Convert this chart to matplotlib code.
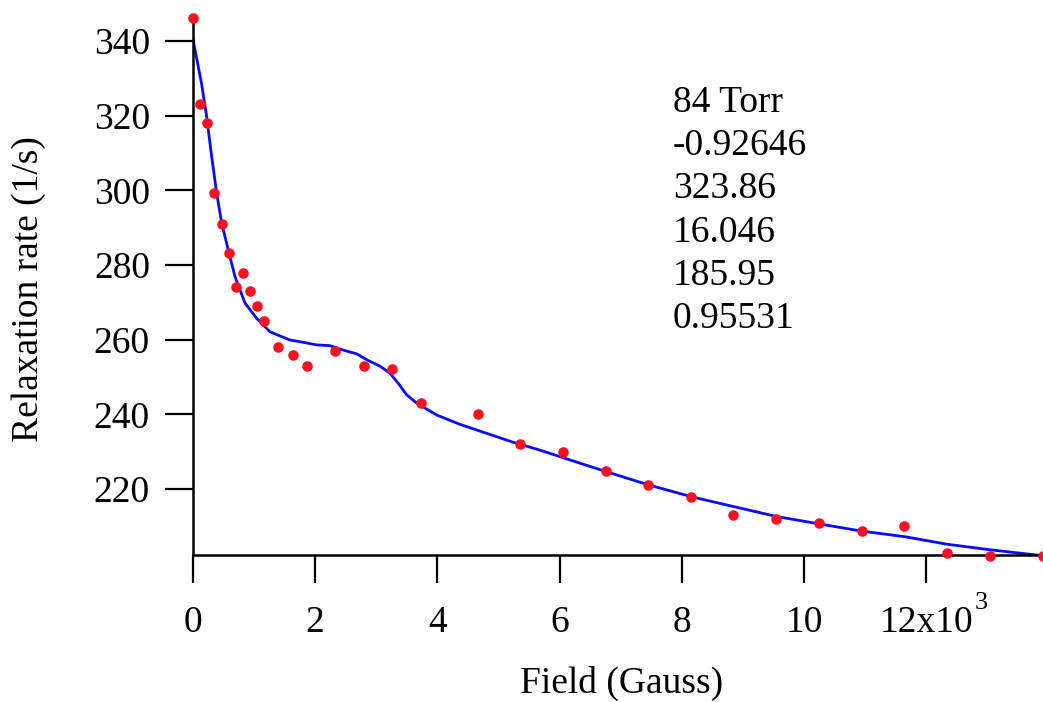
import matplotlib
matplotlib.use("Agg")
import matplotlib.pyplot as plt

plt.rcParams['font.family'] = ['Liberation Serif', 'DejaVu Serif']

# measured data (Field in Gauss, relaxation rate in 1/s)
field = [0, 115, 234, 349, 470, 584, 704, 818, 933, 1043, 1167, 1396, 1637,
         1861, 2329, 2794, 3262, 3727, 4660, 5352, 6061, 6755, 7447, 8151,
         8843, 9547, 10251, 10944, 11642, 12335, 13040, 13912]
rate = [346.2, 323.1, 318.1, 299.2, 291.1, 283.1, 274.0, 278.0, 273.0, 269.0,
        265.0, 258.0, 256.0, 253.0, 257.0, 253.0, 252.1, 243.1, 240.0, 232.0,
        230.0, 224.9, 221.0, 217.9, 213.0, 212.0, 210.8, 208.8, 210.0, 202.8,
        202.0, 202.1]

# fit curve
fit_field = [0, 142, 224, 306, 388, 470, 578, 687, 851, 1043, 1260, 1424, 1588,
             1805, 2025, 2242, 2460, 2679, 2869, 3061, 3224, 3360, 3498, 3661,
             3989, 4370, 4807, 5242, 5679, 6334, 6771, 7452, 8162, 8843, 9553,
             10262, 10944, 11653, 12336, 13044, 13912]
fit_rate = [340.5, 328.4, 319.7, 309.0, 299.2, 291.2, 284.0, 276.9, 269.8,
            265.7, 262.1, 261.0, 259.9, 259.3, 258.6, 258.4, 257.2, 256.2,
            254.4, 252.9, 251.0, 248.3, 245.2, 243.0, 239.8, 237.3, 234.9,
            232.5, 230.4, 226.9, 224.6, 221.1, 217.9, 215.3, 212.6, 210.6,
            208.7, 207.2, 205.2, 203.7, 202.1]

x_ticks = [0, 2000, 4000, 6000, 8000, 10000, 12000]
x_tick_labels = ['0', '2', '4', '6', '8', '10', '12x10']
x_exponent = '3'
y_ticks = [220, 240, 260, 280, 300, 320, 340]
y_tick_labels = ['220', '240', '260', '280', '300', '320', '340']

annotation = ['84 Torr', '-0.92646', '323.86', '16.046', '185.95', '0.95531']

FS = 27
W, H = 1043, 702
fig = plt.figure(figsize=(W / 100, H / 100), dpi=100)
ax = fig.add_axes([193 / W, 1 - 555 / H, (W - 193) / W, (555 - 18) / H])

ax.plot(fit_field, fit_rate, color='#0a0aff', lw=2.0, zorder=2)
ax.plot(field, rate, 'o', color='#ff1020', ms=7.6, mec='none', zorder=3,
        clip_on=False)

ax.set_xlim(0, 13912)
ax.set_ylim(202.3, 346.2)

for s in ['top', 'right']:
    ax.spines[s].set_visible(False)
for s in ['left', 'bottom']:
    ax.spines[s].set_linewidth(1.8)
    ax.spines[s].set_color('black')

ax.set_xticks(x_ticks)
ax.set_xticklabels(x_tick_labels)
ax.set_yticks(y_ticks)
ax.set_yticklabels(y_tick_labels)
ax.tick_params(axis='both', direction='out', length=20, width=1.6,
               labelsize=FS, colors='black')
ax.tick_params(axis='x', pad=16)
ax.tick_params(axis='y', pad=11)

# exponent of the last x tick label
fig.text(975 / W, 1 - 609 / H, x_exponent, ha='left', va='baseline',
         fontsize=19)

fig.text(29 / W, 1 - 289 / H, 'Relaxation rate (1/s)', rotation=90,
         ha='center', va='center', fontsize=FS)
fig.text(622 / W, 1 - 693 / H, 'Field (Gauss)', ha='center', va='baseline',
         fontsize=FS)

for i, line in enumerate(annotation):
    fig.text(673 / W, 1 - (111.7 + 43.3 * i) / H, line, ha='left',
             va='baseline', fontsize=FS)

fig.savefig('out.png', dpi=100)
